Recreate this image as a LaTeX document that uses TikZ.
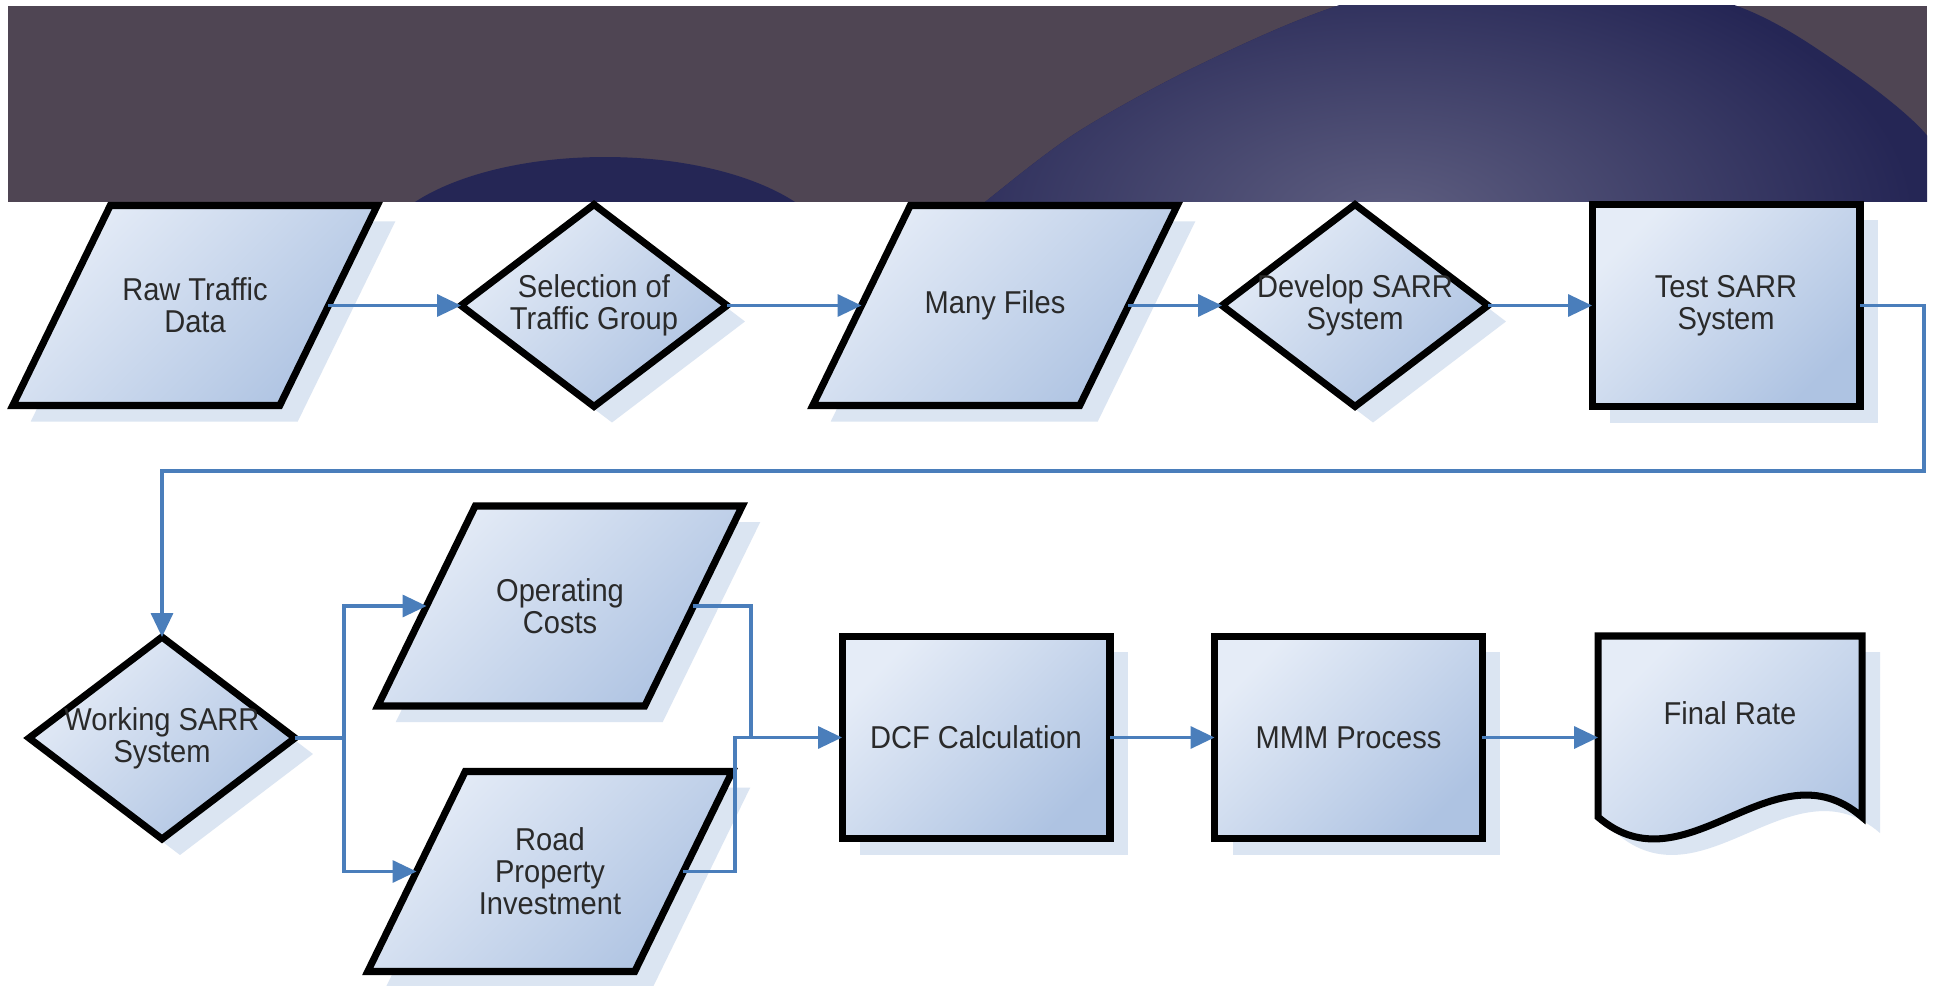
\documentclass[tikz,border=0pt]{standalone}
\usepackage{fontspec}
\setmainfont{Liberation Sans}[FakeStretch=0.92]
\usetikzlibrary{shapes.geometric,arrows.meta,shadows}
\definecolor{bannerc}{RGB}{79,69,83}
\definecolor{navyc}{RGB}{37,38,85}
\definecolor{navylight}{RGB}{94,94,128}
\definecolor{fillA}{RGB}{229,236,247}
\definecolor{fillB}{RGB}{174,195,226}
\definecolor{shadowc}{RGB}{219,229,242}
\definecolor{linec}{RGB}{74,126,187}
\definecolor{textc}{RGB}{42,42,42}
\newcommand\nodefont{\fontsize{18}{18.2}\selectfont}
\newcommand\paradraw[2]{%
  \fill[shadowc] ({#1-84.75+18},{#2-100+16}) -- ({#1+182.25+18},{#2-100+16}) -- ({#1+84.75+18},{#2+100+16}) -- ({#1-182.25+18},{#2+100+16}) -- cycle;
  \path[blackline, boxfill] ({#1-84.75},{#2-100}) -- ({#1+182.25},{#2-100}) -- ({#1+84.75},{#2+100}) -- ({#1-182.25},{#2+100}) -- cycle;
}
\tikzset{
 boxfill/.style={top color=fillA, bottom color=fillB, shading angle=45},
 blackline/.style={draw=black, line width=4pt, line join=miter},
 shapeshadow/.style={drop shadow={shadow xshift=0.36cm, shadow yshift=-0.32cm, fill=shadowc, opacity=1}},
 nodetext/.style={font=\nodefont, text=textc, align=center},
 procbox/.style={rectangle, blackline, boxfill, shapeshadow, minimum width=5.36cm, minimum height=4.06cm, inner sep=0pt, outer sep=0pt, nodetext},
 decbox/.style={diamond, blackline, boxfill, shapeshadow, minimum width=5.32cm, minimum height=4.04cm, inner sep=0pt, outer sep=0pt},
 databox/.style={rectangle, minimum width=5.34cm, minimum height=4cm, inner sep=0pt, outer sep=0pt, nodetext},
 docbox/.style={rectangle, minimum width=5.28cm, minimum height=4.06cm, inner sep=0pt, outer sep=0pt},
 arr/.style={draw=linec, line width=1.9pt, -{Triangle[length=0.48cm,width=0.44cm]}},
 conn/.style={draw=linec, line width=1.9pt},
}
\begin{document}
\begin{tikzpicture}[x=0.02cm, y=-0.02cm]
\useasboundingbox (0,0) rectangle (1937,986);
\fill[white] (0,0) rectangle (1937,986);
% banner
\fill[bannerc] (8,6) rectangle (1927,202);
\begin{scope}
  \clip (8,6) rectangle (1927,202);
  \fill[navyc] (605,260) ellipse [x radius=4.6cm, y radius=2.06cm];
  \begin{scope}
    \clip plot[smooth] coordinates {(935,245) (985,202) (1076,133) (1195,67) (1337,6) (1537,-45) (1737,6) (1844,67) (1925,133) (1975,215)} -- (1975,250) -- (935,250) -- cycle;
    \fill[navyc] (900,-100) rectangle (2000,260);
    \shade[inner color=navylight, outer color=navyc] (1390,220) ellipse [x radius=10.5cm, y radius=5.6cm];
  \end{scope}
\end{scope}
% parallelogram shapes
\paradraw{195}{305.5}
\paradraw{995}{305.5}
\paradraw{560}{606}
\paradraw{550}{871.5}
% document shape
\fill[shadowc, shift={(18,16)}] (1598,636) -- (1862,636) -- (1862,817) .. controls (1774,741) and (1686,893) .. (1598,817) -- cycle;
\path[blackline, boxfill] (1598,636) -- (1862,636) -- (1862,817) .. controls (1774,741) and (1686,893) .. (1598,817) -- cycle;
% nodes
\node[databox] (raw) at (195,305.5) {Raw Traffic\\Data};
\node[decbox, label={[nodetext]center:Selection of\\Traffic Group}] (sel) at (594,305.5) {};
\node[databox] (files) at (995,305.5) {Many Files};
\node[decbox, label={[nodetext]center:Develop SARR\\System}] (dev) at (1355,305.5) {};
\node[procbox] (test) at (1726,305.5) {Test SARR\\System};
\node[decbox, label={[nodetext]center:Working SARR\\System}] (work) at (162,738) {};
\node[databox] (op) at (560,606) {Operating\\Costs};
\node[databox] (road) at (550,871.5) {Road\\Property\\Investment};
\node[procbox] (dcf) at (976,737.5) {DCF Calculation};
\node[procbox] (mmm) at (1348.5,737.5) {MMM Process};
\node[docbox, label={[nodetext, yshift=0.49cm]center:Final Rate}] (final) at (1730,737.5) {};
% junction coordinates
\coordinate (c1) at (1924,471);
\coordinate (j1) at (344,738);
\coordinate (j2) at (751,737.5);
\coordinate (j3) at (735,737.5);
% connectors
\draw[arr] (raw.east) -- (sel.west);
\draw[arr] (sel.east) -- (files.west);
\draw[arr] (files.east) -- (dev.west);
\draw[arr] (dev.east) -- (test.west);
\draw[arr] (test.east) -| (c1) -| (work.north);
\draw[conn] (work.east) -- (j1);
\draw[arr] (j1) |- (op.west);
\draw[arr] (j1) |- (road.west);
\draw[conn] (road.east) -| (j3) -- (j2);
\draw[arr] (op.east) -| (j2) -- (dcf.west);
\draw[arr] (dcf.east) -- (mmm.west);
\draw[arr] (mmm.east) -- (final.west);
\end{tikzpicture}
\end{document}
